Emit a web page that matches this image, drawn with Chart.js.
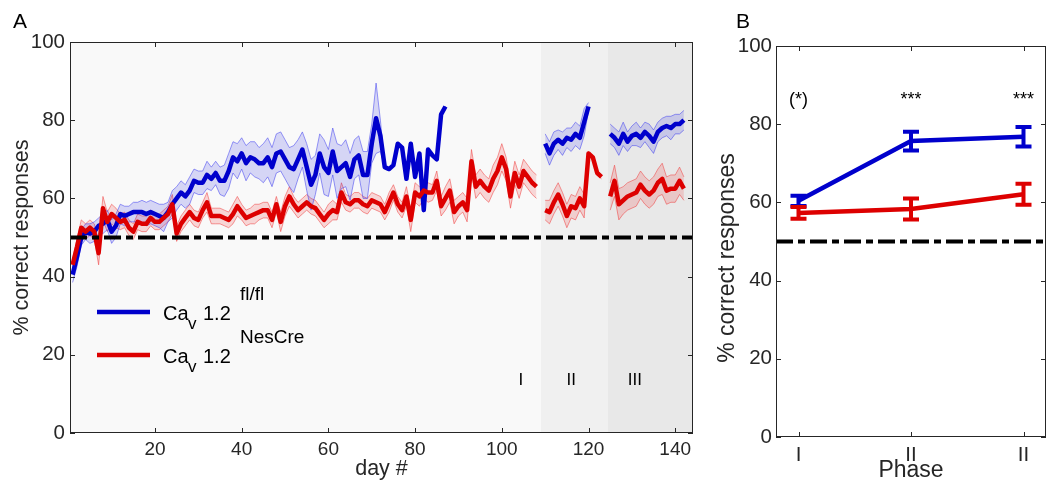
<!DOCTYPE html>
<html><head><meta charset="utf-8">
<script src="https://cdn.jsdelivr.net/npm/chart.js@4.4.1/dist/chart.umd.min.js"></script>
<style>
html,body{margin:0;padding:0;background:#fff;width:1053px;height:484px;overflow:hidden}
canvas{position:absolute;top:0}
#ca{left:0}
#cb{left:700px}
</style></head><body>
<canvas id="ca" width="700" height="484"></canvas>
<canvas id="cb" width="353" height="484"></canvas>
<script>
// ---------- DATA (panel A) ----------
const dayTicks = [20, 40, 60, 80, 100, 120, 140];
const yTicks = [0, 20, 40, 60, 80, 100];
const chanceLevel = 50;

const segStarts = [1, 110, 125];          // first day of each recorded block

const blueP1 = [40.5,45,50,51.5,51,51.5,53,53.5,54.5,51.5,
  53,56,55.5,56,56.5,56.5,56.5,56,56.5,56,
  55.5,55,56.5,58.5,60,61.5,60.5,62,64.5,64,
  64,66,65,66.5,64.5,64.5,67,70.5,69.5,71.5,
  69,70.5,70,69,69,70.5,68,71.5,72,70,
  68,67.5,70,72.5,68,63.5,66,71.5,68,66.5,
  72,67,68,69,65.5,70,71,66,66,74,
  80.5,76,68,67.5,68.5,74,73,65,74,65.5,
  71.5,57,72.5,71,70,81.5,83.5];
const blueP2 = [74,71.5,74,75,74,75.5,75,76.5,75.5,79.5,83.5];
const blueP3 = [76.5,75.5,74,76.5,74.5,76,76.5,75.5,77,76,74.5,77,78,78.5,78,79,79,80];

const blueSemP1 = [2,2.5,2,2,2.5,2.5,2,2.5,2.5,3,
  3,2.5,2.5,2,2.5,2.5,3,3,3,3,
  3,3.5,2.5,3.5,3,3,3,3.5,3,3,
  3,3.5,3,3,3.5,4,4.5,4,4.5,4,
  4.5,4,4.5,4,5,5,5,5,5,5,
  5,6,5,4.5,6,6.5,5,5,7,6,
  6,7,5.5,6,6,5,5,6,6,5,
  9,4,0,0,0,0,0,0,0,0,
  0,0,0,0,0,0,0];
const blueSemP2 = [2.5,3,3,2.5,3,2.5,3,3,3,3.5,1];
const blueSemP3 = [2.5,2.5,3,3,2.5,2.5,3,2.5,2.5,3,3,2.5,2.5,2.5,3,2.5,2.5,2.5];

const redP1 = [43,47.5,52.5,51.5,52.5,51.5,46,57.5,54,56,
  55,54,54.5,52.5,51.5,54,53.5,53.5,55,54,
  54,55,56,58.5,51,53.5,55,56.5,55,54.5,
  57,59,55.5,55.5,55.5,55,54.5,56,58,56.5,
  55,55.5,56,56.5,57,57,54.5,58.5,54,58,
  60.5,58.5,57,58,59,58,57.5,56,54.5,56,
  57,56.5,61.5,59,58.5,59.5,59.5,58.5,58,59.5,
  59,58.5,56.5,59,61.5,58.5,57,60.5,54.5,61.5,
  60.5,62,61.5,61.5,64.5,58,60,62,56.5,58,
  59,57,69.5,63,64.5,63,62,65,67,70.5,
  67.5,60.5,66.5,63,67,65.5,64,63];
const redP2 = [57,56.5,59,61,58.5,55.5,58,57.5,60,58,71.5,70.5,66.5,65.5];
const redP3 = [60.5,64.5,58.5,59.5,60.5,61,61.5,63.5,62,61,62,64,65,62,62.5,62.5,64.5,62.5];

const redSemP1 = [1.5,2,2,2,2,2,3,3,2.5,2.5,
  2.5,2,2,2,2,2,2,2,2,2,
  2,2,2,2.5,2,2,2,2,2,2,
  2,2.5,2,2,2,2,2,2.5,2.5,2,
  2,2,2.5,2,2,2,2,2,2.5,2.5,
  2.5,2,2,2,2,2,2,2,2,2.5,
  2.5,2,2.5,2,2,2,2,2,2,2,
  2,2,2,2.5,2,2,2,2.5,3,2.5,
  2.5,2,2.5,2,2.5,2.5,3,3,3,2.5,
  2.5,3,3,3,3,3,3,3.5,3.5,3.5,
  3,3,3,3,3,3,3,3];
const redSemP2 = [2.5,3,3,3,3,3,3,3,3,3,0.5,0.5,0.5,0.5];
const redSemP3 = [3.5,4,4,3.5,3.5,3.5,3.5,3.5,3.5,3.5,3.5,3.5,4,3.5,3.5,3.5,3.5,3];

const phaseBounds = [0.4, 109, 124.4, 144.1];
const phaseNames = ['I', 'II', 'III'];
const phaseLabelX = [104.4, 116, 130.7];
const phaseLabelY = 13.5;

// ---------- DATA (panel B) ----------
const phaseCats = ['I', 'II', 'II'];
const phasePos = [1, 2, 3];
const blueB = [60.4, 75.7, 76.8];
const blueBErr = [1.3, 2.4, 2.5];
const redB = [57.3, 58.3, 62.1];
const redBErr = [1.5, 2.7, 2.7];
const sigLabels = ['(*)', '***', '***'];
const sigY = 86.3;

// ---------- STYLE ----------
const FONT = "'Liberation Sans', Arial, sans-serif";
const AX = '#262626';
const BLUE = '#0000cc', RED = '#dd0000';
const BLUE_FILL = 'rgba(0,0,230,0.14)', BLUE_EDGE = 'rgba(70,70,240,0.55)';
const RED_FILL = 'rgba(240,0,0,0.14)', RED_EDGE = 'rgba(240,70,70,0.55)';
const DASH = [17, 5, 7, 5];

function pts(start, vals, sem, sign) {
  return vals.map((v, i) => ({ x: start + i, y: sem ? v + sign * sem[i] : v }));
}

function bandSets(start, vals, sem, fill, edge) {
  return [
    { data: pts(start, vals, sem, 1), borderColor: edge, borderWidth: 1, backgroundColor: fill,
      fill: '+1', pointRadius: 0, order: 5 },
    { data: pts(start, vals, sem, -1), borderColor: edge, borderWidth: 1, fill: false,
      pointRadius: 0, order: 5 }
  ];
}
function meanSet(start, vals, color, order) {
  return { data: pts(start, vals), borderColor: color, borderWidth: 4.5, fill: false,
    pointRadius: 0, borderJoinStyle: 'round', order: order };
}

const blueSegs = [[blueP1, blueSemP1], [blueP2, blueSemP2], [blueP3, blueSemP3]];
const redSegs = [[redP1, redSemP1], [redP2, redSemP2], [redP3, redSemP3]];

const dsA = [];
blueSegs.forEach((s, i) => dsA.push(...bandSets(segStarts[i], s[0], s[1], BLUE_FILL, BLUE_EDGE)));
redSegs.forEach((s, i) => dsA.push(...bandSets(segStarts[i], s[0], s[1], RED_FILL, RED_EDGE)));
blueSegs.forEach((s, i) => dsA.push(meanSet(segStarts[i], s[0], BLUE, 2)));
redSegs.forEach((s, i) => dsA.push(meanSet(segStarts[i], s[0], RED, 1)));
dsA.push({ data: [{ x: phaseBounds[0], y: chanceLevel }, { x: phaseBounds[3], y: chanceLevel }],
  borderColor: '#000', borderWidth: 4, borderDash: DASH, pointRadius: 0, fill: false, order: 0 });

const phaseColors = ['#f9f9f9', '#f0f0f0', '#e8e8e8'];

function boxAndTicks(chart, xt, yt) {
  const { ctx, chartArea: a, scales } = chart;
  ctx.save();
  ctx.strokeStyle = AX; ctx.lineWidth = 1;
  ctx.strokeRect(a.left + 0.5, a.top + 0.5, a.right - a.left - 1, a.bottom - a.top - 1);
  ctx.beginPath();
  xt.forEach(v => {
    const x = Math.round(scales.x.getPixelForValue(v)) + 0.5;
    ctx.moveTo(x, a.bottom); ctx.lineTo(x, a.bottom - 5);
    ctx.moveTo(x, a.top); ctx.lineTo(x, a.top + 5);
  });
  yt.forEach(v => {
    const y = Math.round(scales.y.getPixelForValue(v)) + 0.5;
    ctx.moveTo(a.left, y); ctx.lineTo(a.left + 5, y);
    ctx.moveTo(a.right, y); ctx.lineTo(a.right - 5, y);
  });
  ctx.stroke();
  ctx.restore();
}

const pluginA = {
  id: 'pa',
  beforeDatasetsDraw(chart) {
    const { ctx, chartArea: a, scales } = chart;
    ctx.save();
    for (let i = 0; i < 3; i++) {
      const x0 = scales.x.getPixelForValue(phaseBounds[i]);
      const x1 = scales.x.getPixelForValue(phaseBounds[i + 1]);
      ctx.fillStyle = phaseColors[i];
      ctx.fillRect(x0, a.top, x1 - x0, a.bottom - a.top);
    }
    ctx.restore();
  },
  afterDatasetsDraw(chart) {
    const { ctx, scales } = chart;
    boxAndTicks(chart, dayTicks, yTicks);
    ctx.save();
    ctx.fillStyle = '#000';
    ctx.font = '17px ' + FONT;
    ctx.textAlign = 'center'; ctx.textBaseline = 'middle';
    phaseNames.forEach((n, i) => ctx.fillText(n, scales.x.getPixelForValue(phaseLabelX[i]), scales.y.getPixelForValue(phaseLabelY)));
    // legend
    const items = [[BLUE, 312, 'fl/fl'], [RED, 355, 'NesCre']];
    items.forEach(([c, y, sup]) => {
      ctx.strokeStyle = c; ctx.lineWidth = 4.5;
      ctx.beginPath(); ctx.moveTo(97, y); ctx.lineTo(150, y); ctx.stroke();
      ctx.fillStyle = '#000'; ctx.textAlign = 'left'; ctx.textBaseline = 'alphabetic';
      ctx.font = '20px ' + FONT; ctx.fillText('Ca', 163, y + 8);
      ctx.font = '17px ' + FONT; ctx.fillText('v', 188, y + 17);
      ctx.font = '20px ' + FONT; ctx.fillText('1.2', 203, y + 8);
      ctx.font = '19px ' + FONT; ctx.fillText(sup, 240, y - 12);
    });
    ctx.font = '21px ' + FONT; ctx.fillText('A', 13, 28);
    ctx.restore();
  }
};

new Chart(document.getElementById('ca'), {
  type: 'line',
  data: { datasets: dsA },
  options: {
    responsive: false, animation: false, devicePixelRatio: 1,
    layout: { padding: { left: 0, right: 7, top: 42, bottom: 0 } },
    plugins: { legend: { display: false }, tooltip: { enabled: false } },
    scales: {
      x: {
        type: 'linear', min: phaseBounds[0], max: phaseBounds[3],
        afterBuildTicks: s => { s.ticks = dayTicks.map(v => ({ value: v })); },
        afterFit: s => { s.height = 51; },
        grid: { display: false, drawTicks: false }, border: { display: false },
        ticks: { color: AX, font: { family: FONT, size: 19 }, padding: 5, maxRotation: 0 },
        title: { display: true, text: 'day #', color: AX, font: { family: FONT, size: 21.5 }, padding: { top: 0, bottom: 2 } }
      },
      y: {
        min: 0, max: 100,
        afterBuildTicks: s => { s.ticks = yTicks.map(v => ({ value: v })); },
        afterFit: s => { s.width = 70; },
        grid: { display: false, drawTicks: false }, border: { display: false },
        ticks: { color: AX, font: { family: FONT, size: 20.5 }, padding: 5 },
        title: { display: true, text: '% correct responses', color: AX, font: { family: FONT, size: 21.5 }, padding: { top: 9, bottom: 0 } }
      }
    }
  },
  plugins: [pluginA]
});

// ---------- PANEL B ----------
const pluginB = {
  id: 'pb',
  afterDatasetsDraw(chart) {
    const { ctx, scales, chartArea: a } = chart;
    ctx.save();
    [[blueB, blueBErr, BLUE], [redB, redBErr, RED]].forEach(([m, e, c]) => {
      ctx.strokeStyle = c; ctx.lineWidth = 4;
      m.forEach((v, i) => {
        const x = scales.x.getPixelForValue(phasePos[i]);
        const yt = scales.y.getPixelForValue(v + e[i]);
        const yb = scales.y.getPixelForValue(v - e[i]);
        ctx.beginPath();
        ctx.moveTo(x, yt); ctx.lineTo(x, yb);
        ctx.moveTo(x - 8, yt); ctx.lineTo(x + 8, yt);
        ctx.moveTo(x - 8, yb); ctx.lineTo(x + 8, yb);
        ctx.stroke();
      });
    });
    boxAndTicks(chart, phasePos, yTicks);
    ctx.fillStyle = '#000'; ctx.font = '18px ' + FONT;
    ctx.textAlign = 'center'; ctx.textBaseline = 'middle';
    sigLabels.forEach((t, i) => ctx.fillText(t, scales.x.getPixelForValue(phasePos[i]), scales.y.getPixelForValue(sigY)));
    ctx.font = '21px ' + FONT; ctx.textAlign = 'left'; ctx.textBaseline = 'alphabetic';
    ctx.fillText('B', 36, 28);
    // y-axis title (placed as in reference, slightly below centre)
    ctx.fillStyle = AX; ctx.font = '23px ' + FONT;
    ctx.translate(28, 258); ctx.rotate(-Math.PI / 2);
    ctx.textAlign = 'center'; ctx.textBaseline = 'middle';
    ctx.fillText('% correct responses', 0, 0);
    ctx.restore();
  }
};

new Chart(document.getElementById('cb'), {
  type: 'line',
  data: {
    datasets: [
      { data: [{ x: 0.8, y: chanceLevel }, { x: 3.2, y: chanceLevel }], borderColor: '#000', borderWidth: 4,
        borderDash: DASH, pointRadius: 0, fill: false, order: 3 },
      { data: phasePos.map((p, i) => ({ x: p, y: blueB[i] })), borderColor: BLUE, borderWidth: 4.5, pointRadius: 0, fill: false, order: 2 },
      { data: phasePos.map((p, i) => ({ x: p, y: redB[i] })), borderColor: RED, borderWidth: 4.5, pointRadius: 0, fill: false, order: 1 }
    ]
  },
  options: {
    responsive: false, animation: false, devicePixelRatio: 1,
    layout: { padding: { left: 0, right: 7, top: 46, bottom: 0 } },
    plugins: { legend: { display: false }, tooltip: { enabled: false } },
    scales: {
      x: {
        type: 'linear', min: 0.8, max: 3.2,
        afterBuildTicks: s => { s.ticks = phasePos.map(v => ({ value: v })); },
        afterFit: s => { s.height = 47; },
        grid: { display: false, drawTicks: false }, border: { display: false },
        ticks: { color: AX, font: { family: FONT, size: 20.5 }, padding: 6, maxRotation: 0,
          callback: (v) => phaseCats[phasePos.indexOf(v)] },
        title: { display: true, text: 'Phase', color: AX, font: { family: FONT, size: 23 }, padding: { top: 0, bottom: 0 } }
      },
      y: {
        min: 0, max: 100,
        afterBuildTicks: s => { s.ticks = yTicks.map(v => ({ value: v })); },
        afterFit: s => { s.width = 76; },
        grid: { display: false, drawTicks: false }, border: { display: false },
        ticks: { color: AX, font: { family: FONT, size: 20.5 }, padding: 4 },
        title: { display: false }
      }
    }
  },
  plugins: [pluginB]
});
</script>
</body></html>
